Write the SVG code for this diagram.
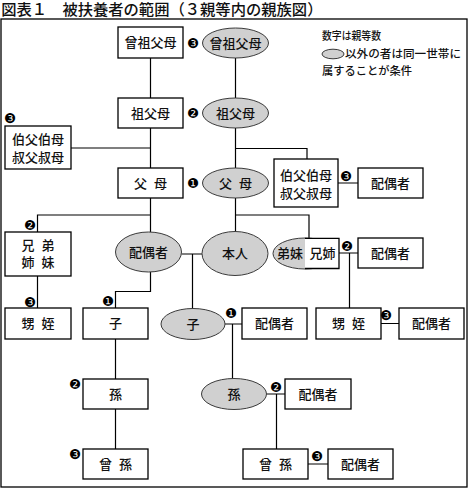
<svg xmlns="http://www.w3.org/2000/svg" width="469" height="489" viewBox="0 0 469 489">
<style>
.b{fill:#fff;stroke:#000;stroke-width:1.3}
.e{fill:#d0d0d0;stroke:#3a3a3a;stroke-width:1}
.t{font-family:"Noto Sans CJK JP","Noto Sans CJK SC",sans-serif;font-size:13px;font-weight:500;text-anchor:middle;fill:#111}
.sp{word-spacing:4px}
.n{font-family:"DejaVu Sans",sans-serif;font-size:13.5px;text-anchor:middle;fill:#000}
.lg{font-family:"Noto Sans CJK JP","Noto Sans CJK SC",sans-serif;font-size:11px;font-weight:500;fill:#111}
.ti{font-family:"Noto Sans CJK JP","Noto Sans CJK SC",sans-serif;font-size:15.3px;font-weight:500;fill:#111}
#connectors path{fill:none;stroke:#000;stroke-width:1.2}
</style>
<rect width="469" height="489" fill="#fff"/>
<text class="ti" x="1.2" y="14.6">図表１　被扶養者の範囲（３親等内の親族図）</text>
<rect x="1" y="19" width="466" height="468" fill="none" stroke="#000" stroke-width="1.3"/>

<g id="legend">
<text class="lg" x="322" y="39.5" textLength="59" lengthAdjust="spacingAndGlyphs">数字は親等数</text>
<ellipse class="e" cx="333" cy="54" rx="11" ry="4.8"/>
<text class="lg" x="345" y="57.8" textLength="116" lengthAdjust="spacingAndGlyphs">以外の者は同一世帯に</text>
<text class="lg" x="322" y="74.5" textLength="90" lengthAdjust="spacingAndGlyphs">属することが条件</text>
</g>

<g id="connectors">
<path d="M150.5 58V98M150.5 128V168M71 148H150.5"/>
<path d="M235.5 58V98M235.5 128V168M235.5 148.5H307V159"/>
<path d="M235.5 198V231.5M235.5 215H309V238"/>
<path d="M150.5 198V232M150.5 215H37.5V232M37.5 276V308"/>
<path d="M181.5 254H202M192.5 254V308.5"/>
<path d="M150.5 272V291.5H115.5V308M115.5 339V379M115.5 409V449"/>
<path d="M225 324H242M232.5 324V378.6"/>
<path d="M266.5 394H285M276.5 394V449"/>
<path d="M338 183H358M339 253H358M349.5 253V308M381 323.5H399M308 464H328"/>
</g>

<g id="n-sosofubo">
<rect class="b" x="118" y="27" width="65" height="31"/>
<text class="t" x="150.5" y="47.3">曾祖父母</text>
<text class="n" x="193" y="47.8">❸</text>
</g>
<g id="e-sosofubo">
<ellipse class="e" cx="235.5" cy="43" rx="33" ry="15"/>
<text class="t" x="235.5" y="47.8">曾祖父母</text>
</g>
<g id="n-sofubo">
<rect class="b" x="118" y="98" width="65" height="30"/>
<text class="t" x="150.5" y="117.8">祖父母</text>
<text class="n" x="193" y="117.8">❷</text>
</g>
<g id="e-sofubo">
<ellipse class="e" cx="235.5" cy="113" rx="33" ry="15"/>
<text class="t" x="235.5" y="117.8">祖父母</text>
</g>
<g id="n-oji-l">
<rect class="b" x="5" y="126" width="66" height="43"/>
<text class="t" x="38" y="144.3">伯父伯母</text>
<text class="t" x="38" y="161.8">叔父叔母</text>
<text class="n" x="10" y="122.8">❸</text>
</g>
<g id="n-fubo">
<rect class="b" x="118" y="168" width="65" height="30"/>
<text class="t sp" x="150.5" y="187.8">父 母</text>
<text class="n" x="193" y="187.8">❶</text>
</g>
<g id="e-fubo">
<ellipse class="e" cx="235.5" cy="183" rx="33" ry="15"/>
<text class="t sp" x="235.5" y="187.8">父 母</text>
</g>
<g id="n-oji-r">
<rect class="b" x="274" y="159" width="64" height="48"/>
<text class="t" x="306" y="179.8">伯父伯母</text>
<text class="t" x="306" y="198">叔父叔母</text>
<text class="n" x="346" y="180.8">❸</text>
</g>
<g id="n-oji-spouse">
<rect class="b" x="358" y="168" width="65" height="30"/>
<text class="t" x="390.5" y="187.8">配偶者</text>
</g>
<g id="n-kyodai">
<rect class="b" x="5" y="232" width="66" height="44"/>
<text class="t sp" x="38" y="250">兄 弟</text>
<text class="t sp" x="38" y="267">姉 妹</text>
<text class="n" x="30" y="229.8">❷</text>
</g>
<g id="e-spouse">
<ellipse class="e" cx="148.5" cy="252" rx="33" ry="20"/>
<text class="t" x="148.5" y="256.8">配偶者</text>
</g>
<g id="e-honnin">
<ellipse class="e" cx="235" cy="253.5" rx="33" ry="22"/>
<text class="t" x="235" y="258.3">本人</text>
</g>
<g id="n-keishi">
<ellipse class="e" cx="305" cy="253.5" rx="32" ry="15.5"/>
<path d="M305 238.3H339V268.5H305Z" fill="#fff" stroke="none"/>
<path d="M305 238.3H339V268.5H305" fill="none" stroke="#000" stroke-width="1.3"/>
<text class="t" x="290" y="258.3">弟妹</text>
<text class="t" x="322.5" y="258.3">兄姉</text>
<text class="n" x="347" y="250.8">❷</text>
</g>
<g id="n-keishi-spouse">
<rect class="b" x="358" y="238" width="65" height="30"/>
<text class="t" x="390.5" y="257.8">配偶者</text>
</g>
<g id="n-oimei-l">
<rect class="b" x="5" y="308" width="66" height="31"/>
<text class="t sp" x="38" y="328.3">甥 姪</text>
<text class="n" x="30" y="306.8">❸</text>
</g>
<g id="n-ko">
<rect class="b" x="83" y="308" width="65" height="31"/>
<text class="t" x="115.5" y="328.3">子</text>
<text class="n" x="108" y="305.8">❶</text>
</g>
<g id="e-ko">
<ellipse class="e" cx="193" cy="324" rx="32" ry="15.5"/>
<text class="t" x="193" y="328.8">子</text>
<text class="n" x="231" y="318.3">❶</text>
</g>
<g id="n-ko-spouse">
<rect class="b" x="242" y="308" width="65" height="31"/>
<text class="t" x="274.5" y="328.3">配偶者</text>
</g>
<g id="n-oimei-r">
<rect class="b" x="316" y="308" width="65" height="31"/>
<text class="t sp" x="348.5" y="328.3">甥 姪</text>
<text class="n" x="386" y="319.8">❸</text>
</g>
<g id="n-oimei-spouse">
<rect class="b" x="399" y="308" width="65" height="31"/>
<text class="t" x="431.5" y="328.3">配偶者</text>
</g>
<g id="n-mago">
<rect class="b" x="83" y="379" width="65" height="30"/>
<text class="t" x="115.5" y="398.8">孫</text>
<text class="n" x="75" y="388.8">❷</text>
</g>
<g id="e-mago">
<ellipse class="e" cx="234" cy="394" rx="32.5" ry="15.5"/>
<text class="t" x="234" y="398.8">孫</text>
<text class="n" x="276" y="391.8">❷</text>
</g>
<g id="n-mago-spouse">
<rect class="b" x="285" y="379" width="66" height="30"/>
<text class="t" x="318" y="398.8">配偶者</text>
</g>
<g id="n-himago-l">
<rect class="b" x="83" y="449" width="65" height="30"/>
<text class="t sp" x="115.5" y="468.8">曾 孫</text>
<text class="n" x="75" y="458.8">❸</text>
</g>
<g id="n-himago-r">
<rect class="b" x="243" y="449" width="65" height="30"/>
<text class="t sp" x="275.5" y="468.8">曾 孫</text>
<text class="n" x="317" y="460.8">❸</text>
</g>
<g id="n-himago-spouse">
<rect class="b" x="328" y="449" width="65" height="30"/>
<text class="t" x="360.5" y="468.8">配偶者</text>
</g>
</svg>
